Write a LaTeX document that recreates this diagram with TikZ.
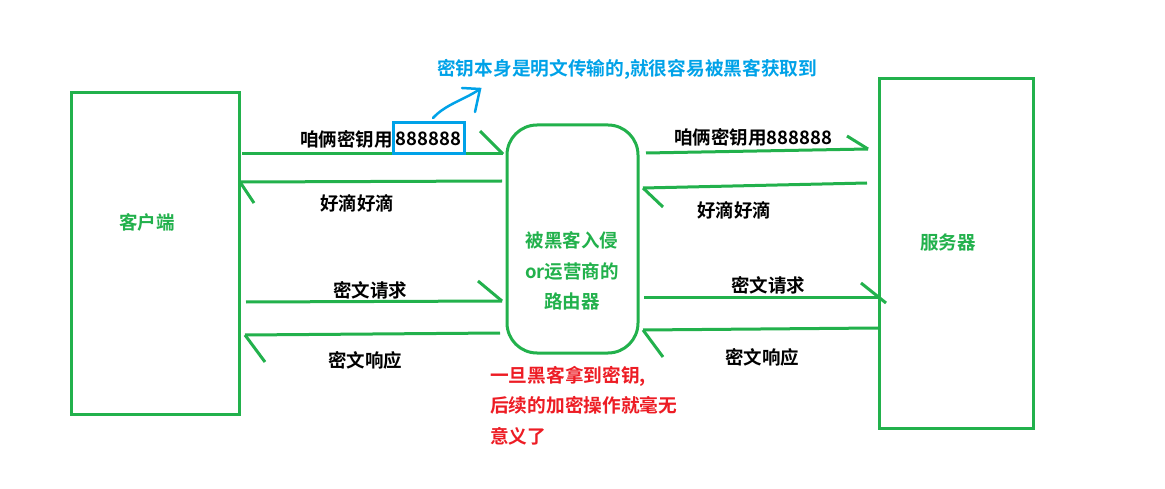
\documentclass[tikz,border=0pt]{standalone}
\usepackage{fontspec}
\newfontfamily\cjk{Noto Sans CJK SC}[BoldFont={Noto Sans CJK SC Bold}]
\definecolor{pgreen}{RGB}{34,177,76}
\definecolor{pblue}{RGB}{0,162,232}
\definecolor{pred}{RGB}{237,28,36}
\begin{document}
\begin{tikzpicture}[x=1pt,y=-1pt,
  box/.style={draw=pgreen, line width=3pt, inner sep=0pt},
  flow/.style={draw=pgreen, line width=3pt},
  lbl/.style={font=\cjk\bfseries\fontsize{18.5}{22}\selectfont, text=black, inner sep=0pt},
  glbl/.style={font=\cjk\bfseries\fontsize{18.5}{30.5}\selectfont, text=pgreen, inner sep=0pt, align=center},
  note/.style={font=\cjk\bfseries\fontsize{18.7}{30.5}\selectfont, inner sep=0pt}
]
\useasboundingbox (0,0) rectangle (1165,489);
\fill[white] (0,0) rectangle (1165,489);
% boxes
\node[box, minimum width=168pt, minimum height=322pt] (client) at (155,253.5) {};
\node[glbl] (clientlbl) at (147,222) {客户端};
\node[box, minimum width=154pt, minimum height=349pt] (server) at (956,253.5) {};
\node[glbl] (serverlbl) at (948,242) {服务器};
\node[box, rounded corners=30pt, minimum width=131pt, minimum height=228pt] (router) at (572.5,239) {};
\node[glbl] (routerlbl) at (572,271) {被黑客入侵\\or运营商的\\路由器};
% coordinates
\coordinate (a1s) at (242,154); \coordinate (a1e) at (503,154); \coordinate (a1b) at (480,131);
\coordinate (a2s) at (502,181); \coordinate (a2e) at (240,182); \coordinate (a2b) at (254,203);
\coordinate (a3s) at (646,153); \coordinate (a3e) at (868,149); \coordinate (a3b) at (847,136);
\coordinate (a4s) at (867,183); \coordinate (a4e) at (643,188); \coordinate (a4b) at (663,207);
\coordinate (a5s) at (246,302); \coordinate (a5e) at (502,301); \coordinate (a5b) at (478,281);
\coordinate (a6s) at (500,333); \coordinate (a6e) at (245,335); \coordinate (a6b) at (265,362);
\coordinate (a7s) at (644,297); \coordinate (a7e) at (880,297); \coordinate (a7b) at (861,283);
\coordinate (a7c) at (886,303);
\coordinate (a8s) at (878,328); \coordinate (a8e) at (643,330); \coordinate (a8b) at (663,357);
% connectors
\draw[flow] (a1s) -- (a1e); \draw[flow] (a1b) -- (a1e);
\draw[flow] (a2s) -- (a2e); \draw[flow] (a2e) -- (a2b);
\draw[flow] (a3s) -- (a3e); \draw[flow] (a3b) -- (a3e);
\draw[flow] (a4s) -- (a4e); \draw[flow] (a4e) -- (a4b);
\draw[flow] (a5s) -- (a5e); \draw[flow] (a5b) -- (a5e);
\draw[flow] (a6s) -- (a6e); \draw[flow] (a6e) -- (a6b);
\draw[flow] (a7s) -- (a7e); \draw[flow] (a7b) -- (a7c);
\draw[flow] (a8s) -- (a8e); \draw[flow] (a8e) -- (a8b);
% labels
\node[draw=pblue, line width=3pt, minimum width=71pt, minimum height=31pt, inner sep=0pt] (key) at (428.5,138) {};
\node[lbl] (keynum) at (428.5,139) {888888};
\node[lbl, anchor=east] (l1) at (393,139) {咱俩密钥用};
\node[lbl] (l2) at (357,203) {好滴好滴};
\node[lbl] (l3) at (753,137) {咱俩密钥用888888};
\node[lbl] (l4) at (734,210) {好滴好滴};
\node[lbl] (l5) at (370,290) {密文请求};
\node[lbl] (l6) at (365,360) {密文响应};
\node[lbl] (l7) at (768,285) {密文请求};
\node[lbl] (l8) at (762,357) {密文响应};
% blue note
\node[note, text=pblue, anchor=west] (bnote) at (437,69) {密钥本身是明文传输的,就很容易被黑客获取到};
\coordinate (bs) at (433,118); \coordinate (be) at (480,89);
\draw[pblue, line width=2.5pt, line cap=round] (bs) .. controls (446,104) and (464,100) .. (be);
\draw[pblue, line width=2.5pt, line cap=round] (462,88) -- (be) -- (475,112);
% red note
\node[note, text=pred, anchor=north west, align=left] (rnote) at (490,366) {一旦黑客拿到密钥,\\后续的加密操作就毫无\\意义了};
\end{tikzpicture}
\end{document}
